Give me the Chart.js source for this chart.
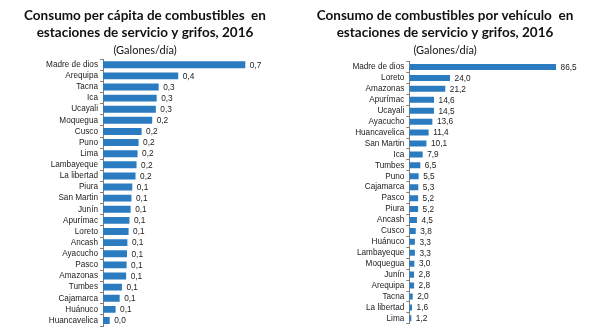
<!DOCTYPE html>
<html>
<head>
<meta charset="utf-8">
<script src="https://cdn.jsdelivr.net/npm/chart.js@4.4.1/dist/chart.umd.min.js"></script>
<style>
  html, body { margin: 0; padding: 0; background: #ffffff; }
  #wrap { position: relative; width: 600px; height: 333px; overflow: hidden; }
  #c1 { position: absolute; left: 0; top: 0; }
  #c2 { position: absolute; left: 300px; top: 0; }
</style>
</head>
<body>
<div id="wrap">
  <canvas id="c1" width="300" height="333"></canvas>
  <canvas id="c2" width="300" height="333"></canvas>
</div>
<script>
// ---- Data ----
const leftTitle = ['Consumo per cápita de combustibles  en', 'estaciones de servicio y grifos, 2016'];
const rightTitle = ['Consumo de combustibles por vehículo  en', 'estaciones de servicio y grifos, 2016'];
const unitLabel = '(Galones/día)';

const leftCats = ['Madre de dios', 'Arequipa', 'Tacna', 'Ica', 'Ucayali', 'Moquegua', 'Cusco', 'Puno', 'Lima',
  'Lambayeque', 'La libertad', 'Piura', 'San Martin', 'Junín', 'Apurímac', 'Loreto', 'Ancash', 'Ayacucho',
  'Pasco', 'Amazonas', 'Tumbes', 'Cajamarca', 'Huánuco', 'Huancavelica'];
const leftVals = [0.70, 0.37, 0.274, 0.264, 0.26, 0.242, 0.19, 0.175, 0.17, 0.165, 0.16, 0.144, 0.14, 0.136,
  0.13, 0.126, 0.12, 0.118, 0.116, 0.114, 0.093, 0.082, 0.062, 0.033];

const rightCats = ['Madre de dios', 'Loreto', 'Amazonas', 'Apurímac', 'Ucayali', 'Ayacucho', 'Huancavelica',
  'San Martin', 'Ica', 'Tumbes', 'Puno', 'Cajamarca', 'Pasco', 'Piura', 'Ancash', 'Cusco', 'Huánuco',
  'Lambayeque', 'Moquegua', 'Junín', 'Arequipa', 'Tacna', 'La libertad', 'Lima'];
const rightVals = [86.5, 24.0, 21.2, 14.6, 14.5, 13.6, 11.4, 10.1, 7.9, 6.5, 5.5, 5.3, 5.2, 5.2, 4.5, 3.8,
  3.3, 3.3, 3.0, 2.8, 2.8, 2.0, 1.6, 1.2];

// ---- Styles ----
const BAR = '#2B7BC0';
const AXIS = '#7f7f7f';
const TXT = '#222222';

const valueLabels = {
  id: 'valueLabels',
  afterDatasetsDraw(chart) {
    const ctx = chart.ctx;
    const meta = chart.getDatasetMeta(0);
    const data = chart.data.datasets[0].data;
    ctx.save();
    ctx.font = '8.3px "Liberation Sans", Arial, sans-serif';
    ctx.fillStyle = TXT;
    ctx.textAlign = 'left';
    ctx.textBaseline = 'middle';
    meta.data.forEach((bar, i) => {
      const t = data[i].toFixed(1).replace('.', ',');
      ctx.fillText(t, bar.x + 4.5, bar.y + 0.5);
    });
    ctx.restore();
  }
};

function makeChart(id, title, cats, vals, opts) {
  return new Chart(document.getElementById(id), {
    type: 'bar',
    data: {
      labels: cats,
      datasets: [{
        data: vals,
        backgroundColor: BAR,
        borderWidth: 0,
        categoryPercentage: 1,
        barPercentage: opts.barPct
      }]
    },
    plugins: [valueLabels],
    options: {
      indexAxis: 'y',
      responsive: false,
      animation: false,
      devicePixelRatio: 1,
      layout: { padding: { left: 0, right: opts.padRight, top: 0, bottom: opts.padBottom } },
      plugins: {
        legend: { display: false },
        tooltip: { enabled: false },
        title: {
          display: true,
          text: title,
          color: '#111111',
          font: { family: 'Lato, "Open Sans", sans-serif', size: 13.5, weight: 'bold', lineHeight: 1.25 },
          padding: { top: 7, bottom: 2 }
        },
        subtitle: {
          display: true,
          text: unitLabel,
          color: '#111111',
          font: { family: 'Lato, "Open Sans", sans-serif', size: 11, lineHeight: 1.2 },
          padding: { top: 1, bottom: opts.subBottom }
        }
      },
      scales: {
        x: {
          display: false,
          min: 0,
          max: opts.xMax
        },
        y: {
          afterFit(scale) { scale.width = opts.yWidth; },
          grid: {
            display: true,
            drawOnChartArea: false,
            drawTicks: true,
            tickLength: 3,
            color: AXIS,
            offset: true
          },
          border: { display: true, color: AXIS, width: 1 },
          ticks: {
            color: TXT,
            padding: 2,
            autoSkip: false,
            font: { family: '"Liberation Sans", Arial, sans-serif', size: 8.2 }
          }
        }
      }
    }
  });
}

makeChart('c1', leftTitle, leftCats, leftVals,
  { xMax: 0.92, yWidth: 103, padRight: 10, padBottom: 6.4, subBottom: 2.2, barPct: 0.62 });
makeChart('c2', rightTitle, rightCats, rightVals,
  { xMax: 106.5, yWidth: 109.3, padRight: 10, padBottom: 9.2, subBottom: 4.6, barPct: 0.55 });
</script>
</body>
</html>
